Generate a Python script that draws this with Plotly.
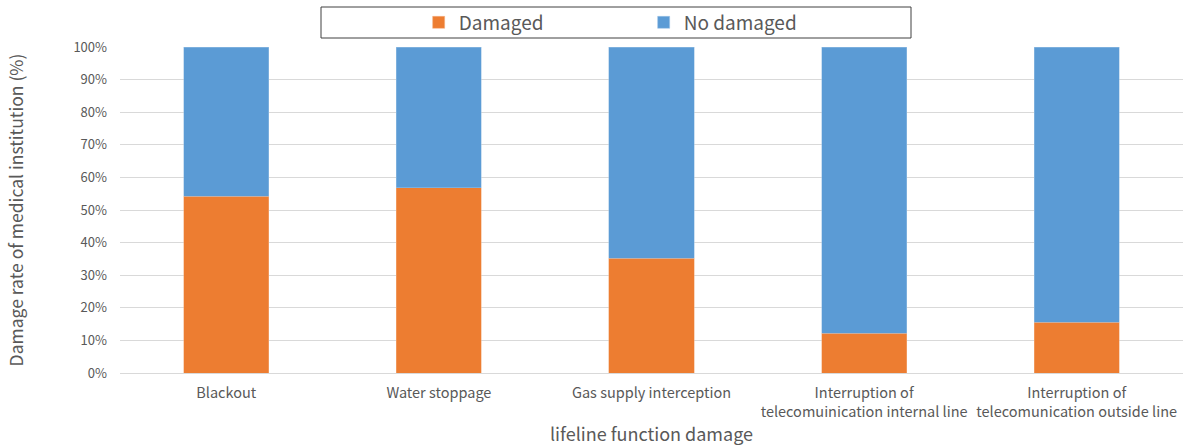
import plotly.graph_objects as go

categories = [
    "Blackout",
    "Water stoppage",
    "Gas supply interception",
    "Interruption of<br>telecomuinication internal line",
    "Interruption of<br>telecomunication outside line",
]
damaged = [0.542, 0.569, 0.352, 0.122, 0.156]
no_damaged = [1 - v for v in damaged]
y_ticks = [0, 0.1, 0.2, 0.3, 0.4, 0.5, 0.6, 0.7, 0.8, 0.9, 1.0]

FONT = "Noto Sans CJK JP"
GRAY = "#595959"

fig = go.Figure()
fig.add_trace(go.Bar(x=categories, y=damaged, name="Damaged",
                     marker=dict(color="#ED7D31", line=dict(color="#F4B183", width=0.5))))
fig.add_trace(go.Bar(x=categories, y=no_damaged, name="No damaged",
                     marker=dict(color="#5B9BD5", line=dict(color="#9DC3E6", width=0.5))))

fig.update_layout(
    width=1186, height=447,
    barmode="stack", bargap=0.6,
    plot_bgcolor="white", paper_bgcolor="white",
    margin=dict(l=120, r=3, t=47, b=74, autoexpand=False),
    font=dict(family=FONT, color=GRAY, size=13),
    showlegend=True,
    legend=dict(orientation="h", xref="container", yref="container",
                x=0.353, xanchor="left", y=1 - 22.5 / 447, yanchor="middle",
                font=dict(size=19, color=GRAY, family=FONT),
                entrywidth=180, entrywidthmode="pixels",
                bgcolor="rgba(0,0,0,0)", traceorder="normal"),
    shapes=[dict(type="rect", xref="paper", yref="paper",
                 x0=(321 - 120) / 1063, x1=(911 - 120) / 1063,
                 y0=(373 - 38) / 326, y1=(373 - 7) / 326,
                 line=dict(color="#404040", width=1), fillcolor="rgba(0,0,0,0)", layer="above")],
)
fig.update_xaxes(
    automargin=False,
    showline=True, linecolor="#D9D9D9", linewidth=1,
    tickfont=dict(size=14.5, color=GRAY, family=FONT), ticklabelstandoff=7,
    title=dict(text="lifeline function damage", font=dict(size=18, color=GRAY, family=FONT), standoff=8),
)
fig.update_yaxes(
    automargin=False,
    range=[0, 1], tickvals=y_ticks, tickformat=".0%",
    showgrid=True, gridcolor="#D9D9D9", gridwidth=1, zeroline=False,
    tickfont=dict(size=13, color=GRAY, family=FONT), ticklabelstandoff=12,
    title=dict(text="Damage rate of medical institution (%)",
               font=dict(size=17.5, color=GRAY, family=FONT), standoff=45),
)
fig.write_html("out.html", config={"displayModeBar": False},
               post_script="document.body.style.margin='0';")
